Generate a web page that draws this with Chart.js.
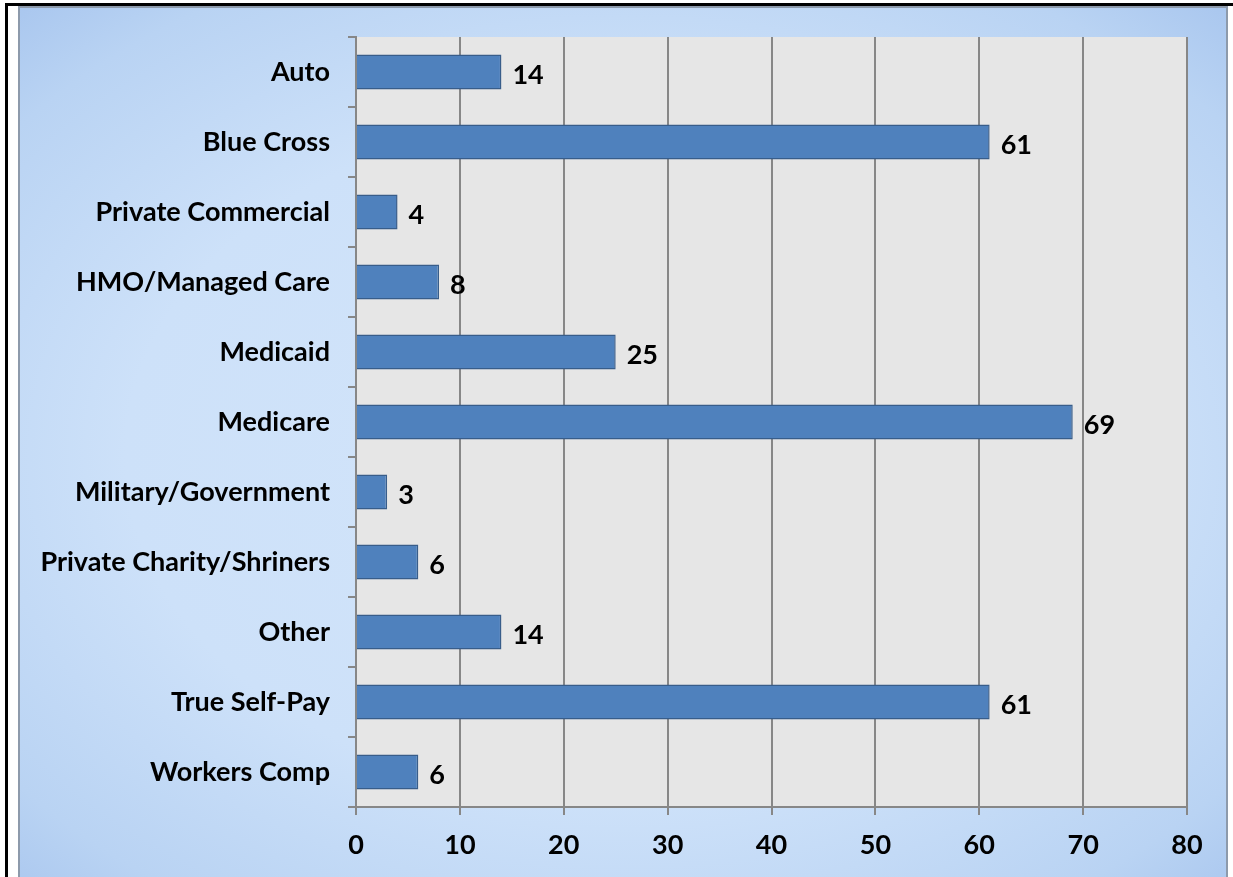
<!DOCTYPE html>
<html>
<head>
<meta charset="utf-8">
<script src="https://cdn.jsdelivr.net/npm/chart.js@4/dist/chart.umd.min.js"></script>
<style>
  html, body { margin:0; padding:0; background:#fff; overflow:hidden; }
  #frame { position:absolute; left:5px; top:3px; width:1240px; height:900px;
           border-top:3px solid #000; border-left:3px solid #000; }
  #panel { position:absolute; left:18px; top:6px; width:1210px; height:900px;
           border:2px solid #8d9aab; box-sizing:border-box;
           background: radial-gradient(ellipse 75% 70% at 50% 50%, #d3e5fa 0%, #cde1f9 55%, #b9d3f3 85%, #a7c5ee 100%); }
  #wrap { position:absolute; left:0; top:0; width:1233px; height:877px; }
</style>
</head>
<body>
<div id="frame"></div>
<div id="panel"></div>
<div id="wrap"><canvas id="chart" width="1233" height="877"></canvas></div>
<script>
// DATA
const categories = ["Auto", "Blue Cross", "Private Commercial", "HMO/Managed Care", "Medicaid",
  "Medicare", "Military/Government", "Private Charity/Shriners", "Other", "True Self-Pay", "Workers Comp"];
const counts = [14, 61, 4, 8, 25, 69, 3, 6, 14, 61, 6];
const xTicks = [0, 10, 20, 30, 40, 50, 60, 70, 80];

const FONT = "Lato, 'DejaVu Sans', sans-serif";
const GRID = "#878787";

// gray plot area background
const plotBg = {
  id: "plotBg",
  beforeDraw(chart) {
    const a = chart.chartArea, c = chart.ctx;
    c.save();
    c.fillStyle = "#e6e6e6";
    c.fillRect(a.left, a.top, a.right - a.left, a.bottom - a.top);
    c.restore();
  }
};

// value labels right of each bar
const valueLabels = {
  id: "valueLabels",
  afterDatasetsDraw(chart) {
    const c = chart.ctx;
    const meta = chart.getDatasetMeta(0);
    c.save();
    c.font = "bold 27px " + FONT;
    c.fillStyle = "#000";
    c.textBaseline = "middle";
    meta.data.forEach((bar, k) => {
      c.fillText(String(counts[k]), bar.x + 11, bar.y + 3);
    });
    c.restore();
  }
};

new Chart(document.getElementById("chart"), {
  type: "bar",
  data: {
    labels: categories,
    datasets: [{
      data: counts,
      backgroundColor: "#4f81bd",
      borderColor: "#385d8a",
      borderWidth: 1.5,
      barPercentage: 0.5,
      categoryPercentage: 1
    }]
  },
  options: {
    indexAxis: "y",
    responsive: false,
    animation: false,
    layout: { padding: { top: 37, right: 46, left: 0, bottom: 0 } },
    plugins: { legend: { display: false }, tooltip: { enabled: false } },
    scales: {
      x: {
        min: 0, max: 80,
        afterBuildTicks: s => { s.ticks = xTicks.map(v => ({ value: v })); },
        afterFit: s => { s.height = 70; },
        grid: { color: GRID, lineWidth: 2, tickLength: 8 },
        border: { color: GRID, width: 2 },
        ticks: { color: "#000", font: { family: FONT, size: 27, weight: "bold" }, padding: 14 }
      },
      y: {
        afterFit: s => { s.width = 356; },
        grid: { color: GRID, lineWidth: 2, tickLength: 8, drawOnChartArea: false, offset: true },
        border: { color: GRID, width: 2 },
        ticks: { color: "#000", font: { family: FONT, size: 27, weight: "bold" }, padding: 18 }
      }
    }
  },
  plugins: [plotBg, valueLabels]
});
</script>
</body>
</html>
